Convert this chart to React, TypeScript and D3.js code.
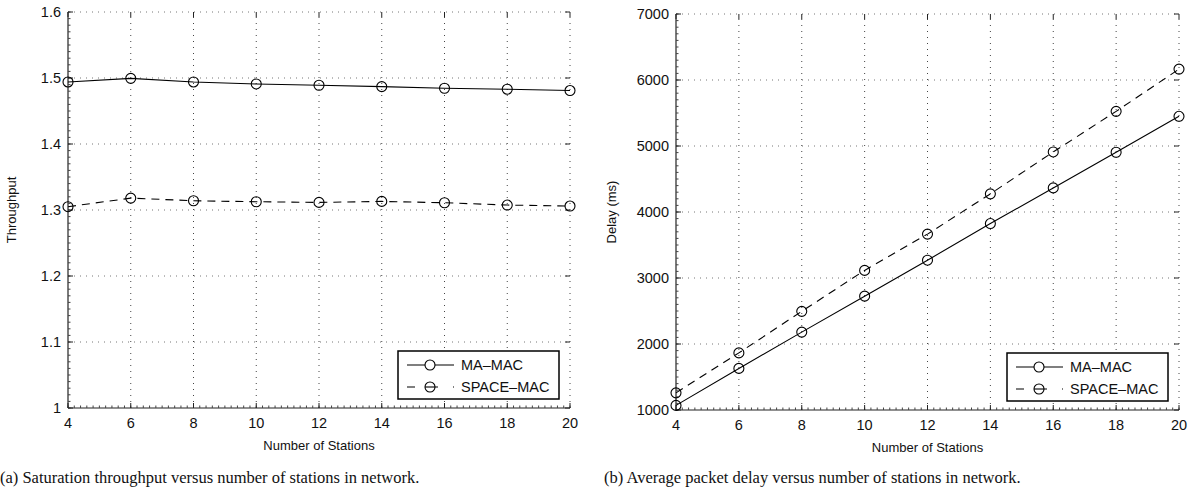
import React, { useEffect } from 'react';
import * as d3 from 'd3';

// number of stations
const stations = [4, 6, 8, 10, 12, 14, 16, 18, 20];

// saturation throughput
const thrMaMac = [1.494, 1.4995, 1.494, 1.491, 1.489, 1.487, 1.4845, 1.483, 1.481];
const thrSpaceMac = [1.305, 1.318, 1.314, 1.3125, 1.3115, 1.313, 1.311, 1.3075, 1.306];

// average packet delay (ms)
const delayMaMac = [1070, 1630, 2180, 2725, 3270, 3825, 4365, 4905, 5450];
const delaySpaceMac = [1260, 1865, 2495, 3115, 3665, 4275, 4910, 5525, 6165];

const thrTicks = [1, 1.1, 1.2, 1.3, 1.4, 1.5, 1.6];
const delayTicks = [1000, 2000, 3000, 4000, 5000, 6000, 7000];
const xTicks = [4, 6, 8, 10, 12, 14, 16, 18, 20];

const seriesNames = ['MA\u2013MAC', 'SPACE\u2013MAC'];

const sans = 'Liberation Sans, Arial, Helvetica, sans-serif';
const serif = 'Liberation Serif, Times New Roman, serif';

function Panel(props) {
  const { left, right, top, bottom, yDomain, yTicks, yLabel, a, b, fmt, caption, capX, yLabelX } = props;
  const x = d3.scaleLinear().domain([4, 20]).range([left, right]);
  const y = d3.scaleLinear().domain(yDomain).range([bottom, top]);

  const line = d3.line().x((d) => x(d[0])).y((d) => y(d[1]));
  const ptsA = stations.map((s, i) => [s, a[i]]);
  const ptsB = stations.map((s, i) => [s, b[i]]);

  const yStep = (yTicks[1] - yTicks[0]) / 10;
  const yMinor = d3.range(yDomain[0], yDomain[1] + yStep / 2, yStep);
  const xMinor = d3.range(4, 20.01, 0.2);

  const lx = right - 172;
  const ly = bottom - 57;

  return (
    <g>
      {/* grid */}
      {xTicks.slice(1).map((t) => (
        <line key={'gx' + t} x1={x(t)} x2={x(t)} y1={bottom} y2={top}
          stroke="#444" strokeWidth={1} strokeDasharray="1,5" />
      ))}
      {yTicks.slice(1).map((t) => (
        <line key={'gy' + t} x1={left} x2={right} y1={y(t)} y2={y(t)}
          stroke="#777" strokeWidth={1} strokeDasharray="1,5" />
      ))}
      {/* axes */}
      <line x1={left} x2={left} y1={top} y2={bottom} stroke="#222" strokeWidth={1.2} />
      <line x1={left} x2={right} y1={bottom} y2={bottom} stroke="#222" strokeWidth={1.2} />
      {yMinor.map((t, i) => (
        <line key={'ym' + i} x1={left} x2={left + 2.5} y1={y(t)} y2={y(t)} stroke="#444" />
      ))}
      {xMinor.map((t, i) => (
        <line key={'xm' + i} x1={x(t)} x2={x(t)} y1={bottom} y2={bottom - 2.5} stroke="#444" />
      ))}
      {yTicks.map((t) => (
        <g key={'yt' + t}>
          <line x1={left} x2={left + 5} y1={y(t)} y2={y(t)} stroke="#222" />
          <line x1={right} x2={right - 5} y1={y(t)} y2={y(t)} stroke="#222" />
          <text x={left - 7} y={y(t) + 5} textAnchor="end" fontFamily={sans} fontSize={14.5} fill="#111">{fmt(t)}</text>
        </g>
      ))}
      {xTicks.map((t) => (
        <g key={'xt' + t}>
          <line x1={x(t)} x2={x(t)} y1={bottom} y2={bottom - 5} stroke="#222" />
          <line x1={x(t)} x2={x(t)} y1={top} y2={top + 5} stroke="#222" />
          <text x={x(t)} y={bottom + 20} textAnchor="middle" fontFamily={sans} fontSize={14.5} fill="#111">{t}</text>
        </g>
      ))}
      <text x={(left + right) / 2} y={bottom + 42} textAnchor="middle" fontFamily={sans} fontSize={13} fill="#111">Number of Stations</text>
      <text transform={`translate(${yLabelX},${(top + bottom) / 2}) rotate(-90)`} textAnchor="middle"
        fontFamily={sans} fontSize={13} fill="#111">{yLabel}</text>

      {/* series */}
      <path d={line(ptsA)} fill="none" stroke="#000" strokeWidth={1.1} />
      <path d={line(ptsB)} fill="none" stroke="#000" strokeWidth={1.1} strokeDasharray="8,6" />
      {ptsA.map((p, i) => (
        <circle key={'ca' + i} cx={x(p[0])} cy={y(p[1])} r={5} fill="none" stroke="#000" strokeWidth={1.1} />
      ))}
      {ptsB.map((p, i) => (
        <circle key={'cb' + i} cx={x(p[0])} cy={y(p[1])} r={5} fill="none" stroke="#000" strokeWidth={1.1} />
      ))}

      {/* legend */}
      <rect x={lx} y={ly} width={161} height={48} fill="#fff" stroke="#000" strokeWidth={1.5} />
      <line x1={lx + 9} x2={lx + 56} y1={ly + 14} y2={ly + 14} stroke="#000" strokeWidth={1.1} />
      <circle cx={lx + 32} cy={ly + 14} r={5} fill="#fff" stroke="#000" strokeWidth={1.1} />
      <line x1={lx + 9} x2={lx + 56} y1={ly + 36} y2={ly + 36} stroke="#000" strokeWidth={1.1} strokeDasharray="8,15" />
      <circle cx={lx + 32} cy={ly + 36} r={5} fill="#fff" stroke="#000" strokeWidth={1.1} />
      <line x1={lx + 27} x2={lx + 37} y1={ly + 36} y2={ly + 36} stroke="#000" strokeWidth={1.1} />
      <text x={lx + 63} y={ly + 19} fontFamily={sans} fontSize={14.5} fill="#111">{seriesNames[0]}</text>
      <text x={lx + 63} y={ly + 41} fontFamily={sans} fontSize={14.5} fill="#111">{seriesNames[1]}</text>

      <text x={capX} y={483} fontFamily={serif} fontSize={16.5} fill="#111">{caption}</text>
    </g>
  );
}

export default function App() {
  useEffect(() => {
    document.body.style.margin = '0';
  }, []);
  return (
    <svg width={1196} height={488} style={{ display: 'block', background: '#fff' }}>
      <Panel left={68} right={570} top={12} bottom={408} yDomain={[1, 1.6]} yTicks={thrTicks}
        yLabel="Throughput" a={thrMaMac} b={thrSpaceMac} fmt={(t) => d3.format('~g')(t)}
        caption="(a) Saturation throughput versus number of stations in network." capX={0} yLabelX={16} />
      <Panel left={676} right={1179} top={14} bottom={410} yDomain={[1000, 7000]} yTicks={delayTicks}
        yLabel="Delay (ms)" a={delayMaMac} b={delaySpaceMac} fmt={(t) => String(t)}
        caption="(b) Average packet delay versus number of stations in network." capX={604} yLabelX={616} />
    </svg>
  );
}
